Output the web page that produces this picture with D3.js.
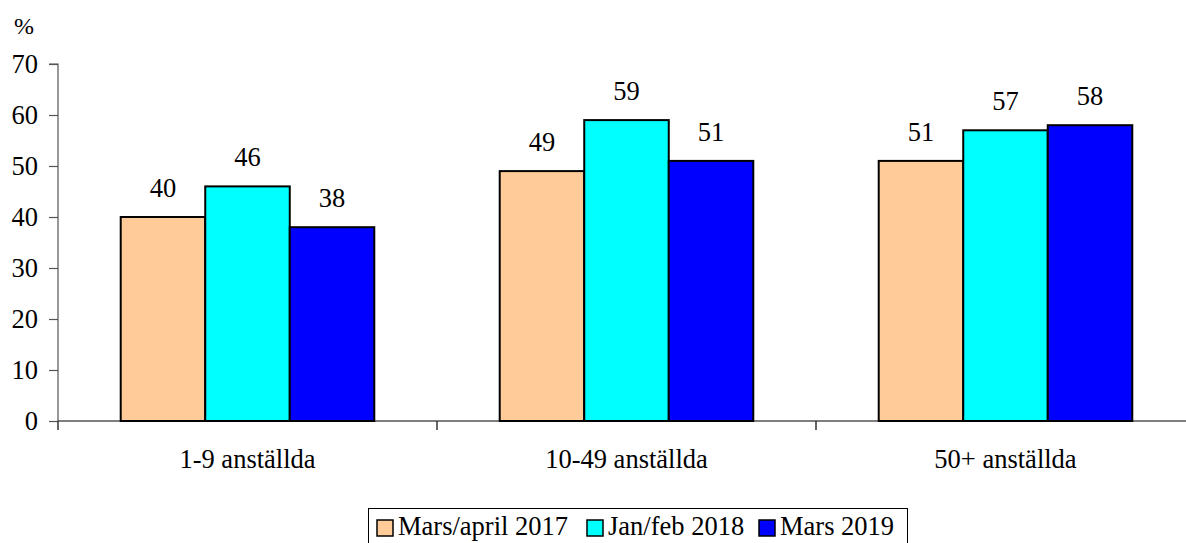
<!DOCTYPE html>
<html><head><meta charset="utf-8">
<script src="https://cdn.jsdelivr.net/npm/d3@7"></script>
</head><body style="margin:0;background:#fff"><svg id="c" width="1186" height="543" font-family="Liberation Serif" style="display:block"></svg>
<script>
const categories = ["1-9 anställda", "10-49 anställda", "50+ anställda"];
const seriesNames = ["Mars/april 2017", "Jan/feb 2018", "Mars 2019"];
const seriesColors = ["#FFCC99", "#00FFFF", "#0000FF"];
const valuesMarsApril2017 = [40, 49, 51];
const valuesJanFeb2018 = [46, 59, 57];
const valuesMars2019 = [38, 51, 58];
const yTicks = [0, 10, 20, 30, 40, 50, 60, 70];

const FONT = "Liberation Serif";
const FS = 26.5;
const series = [valuesMarsApril2017, valuesJanFeb2018, valuesMars2019];
const svg = d3.select("#c");
const x0 = 58, x1 = 1195, yTop = 64, yBot = 421;
const x = d3.scaleBand().domain(categories).range([x0, x1]).paddingInner(0).paddingOuter(0);
const y = d3.scaleLinear().domain([0, 70]).range([yBot, yTop]);
const inner = d3.scaleBand().domain(d3.range(3)).range([0, x.bandwidth()]).paddingOuter(0.742).paddingInner(0);

// y axis
const ya = svg.append("g").attr("transform", `translate(${x0},0)`)
  .call(d3.axisLeft(y).tickValues(yTicks).tickSize(9).tickPadding(11).tickFormat(d3.format("d")));
ya.attr("font-family", FONT).attr("font-size", FS);
ya.select(".domain").attr("stroke", "#555").attr("stroke-width", 1.2).attr("d", `M-9,${yTop}H0V${yBot}`);
ya.selectAll(".tick line").attr("stroke", "#555").attr("stroke-width", 1.2);
ya.selectAll(".tick text").attr("font-size", FS).attr("fill", "#000").attr("font-family", FONT);

svg.append("text").attr("x", 14).attr("y", 34).attr("font-size", 24).attr("font-family", FONT).text("%");

// x axis
svg.append("line").attr("x1", x0).attr("x2", x1).attr("y1", yBot).attr("y2", yBot).attr("stroke", "#555").attr("stroke-width", 1.5);
const bounds = categories.map(c => x(c)).concat([x1]);
svg.selectAll(".xt").data(bounds).join("line")
  .attr("x1", d => d).attr("x2", d => d).attr("y1", yBot).attr("y2", yBot + 9)
  .attr("stroke", "#333").attr("stroke-width", 1.5);
svg.selectAll(".xl").data(categories).join("text")
  .attr("x", d => x(d) + x.bandwidth() / 2).attr("y", 468)
  .attr("text-anchor", "middle").attr("font-size", FS).attr("font-family", FONT).text(d => d);

// bars
series.forEach((vals, si) => {
  const g = svg.append("g");
  g.selectAll("rect").data(vals).join("rect")
    .attr("x", (d, i) => x(categories[i]) + inner(si))
    .attr("y", d => y(d))
    .attr("width", inner.bandwidth())
    .attr("height", d => yBot - y(d))
    .attr("fill", seriesColors[si]).attr("stroke", "#000").attr("stroke-width", 2);
  g.selectAll("text").data(vals).join("text")
    .attr("x", (d, i) => x(categories[i]) + inner(si) + inner.bandwidth() / 2)
    .attr("y", d => y(d) - 20)
    .attr("text-anchor", "middle").attr("font-size", FS).attr("font-family", FONT).text(d => d);
});

// legend
const lg = svg.append("g");
lg.append("rect").attr("x", 368.5).attr("y", 508.5).attr("width", 539).attr("height", 45)
  .attr("fill", "#fff").attr("stroke", "#000").attr("stroke-width", 1);
const items = lg.selectAll("g").data(seriesNames).join("g")
  .attr("transform", (d, i) => `translate(${[377, 587, 759][i]},0)`);
items.append("rect").attr("x", 0).attr("y", 520).attr("width", 16).attr("height", 16)
  .attr("fill", (d, i) => seriesColors[i]).attr("stroke", "#000").attr("stroke-width", 1.5);
items.append("text").attr("x", 21).attr("y", 535).attr("font-size", FS).attr("font-family", FONT).text(d => d);
</script></body></html>
